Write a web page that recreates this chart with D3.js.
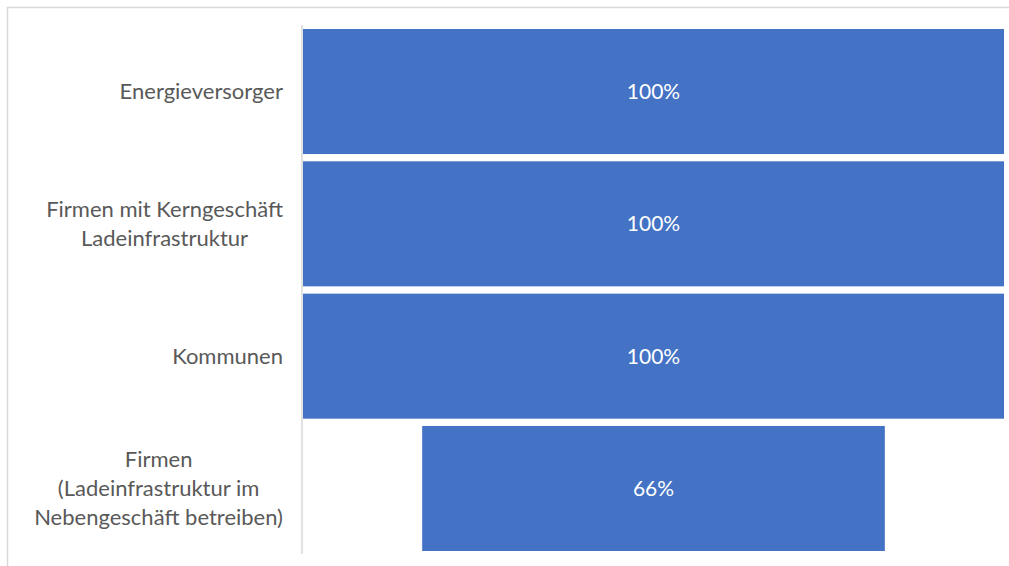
<!DOCTYPE html>
<html>
<head>
<meta charset="utf-8">
<script src="https://cdn.jsdelivr.net/npm/d3@7"></script>
<style>
  html, body { margin: 0; padding: 0; background: #fff; }
  svg { display: block; }
</style>
</head>
<body>
<svg id="chart" width="1009" height="566"></svg>
<script>
// Funnel stages and the share of each group
const categories = [
  ["Energieversorger"],
  ["Firmen mit Kerngeschäft", "Ladeinfrastruktur"],
  ["Kommunen"],
  ["Firmen", "(Ladeinfrastruktur im", "Nebengeschäft betreiben)"]
];
const values = [1.00, 1.00, 1.00, 0.66];
const valueLabels = ["100%", "100%", "100%", "66%"];

const FONT = "Lato, 'Open Sans', sans-serif";
const BAR = "#4472C4";

const svg = d3.select("#chart");
const keys = categories.map(c => c.join(" "));

// chart frame (extends past the visible area)
svg.append("rect")
  .attr("x", 7.5).attr("y", 7.5)
  .attr("width", 1100).attr("height", 700)
  .attr("fill", "none").attr("stroke", "#d9d9d9").attr("stroke-width", 1.5);

const y = d3.scaleBand().domain(keys).range([29, 551]).paddingInner(0.055).paddingOuter(0);
const x = d3.scaleLinear().domain([0, 1]).range([0, 701]);
const centerX = 303 + x(1) / 2;

// category axis line
svg.append("line")
  .attr("x1", 302).attr("x2", 302)
  .attr("y1", 25).attr("y2", 554)
  .attr("stroke", "#d9d9d9").attr("stroke-width", 1.5);

const rows = svg.selectAll("g.row").data(keys).join("g").attr("class", "row");

rows.append("rect")
  .attr("x", (d, i) => centerX - x(values[i]) / 2)
  .attr("y", d => y(d))
  .attr("width", (d, i) => x(values[i]))
  .attr("height", y.bandwidth())
  .attr("fill", BAR);

rows.append("text")
  .attr("x", centerX)
  .attr("y", d => y(d) + y.bandwidth() / 2)
  .attr("dy", "0.35em")
  .attr("text-anchor", "middle")
  .attr("font-family", FONT)
  .attr("font-size", 21)
  .attr("fill", "#ffffff")
  .text((d, i) => valueLabels[i]);

// category labels: centred block, right edge against the axis
const lineH = 28.8;
rows.each(function(d, i) {
  const lines = categories[i];
  const g = d3.select(this).append("text")
    .attr("font-family", FONT)
    .attr("font-size", 22)
    .attr("fill", "#595959")
    .attr("text-anchor", "middle");
  const cy = y(d) + y.bandwidth() / 2;
  const y0 = cy - (lines.length - 1) * lineH / 2;
  lines.forEach((t, j) => {
    g.append("tspan").attr("x", 0).attr("y", y0 + j * lineH).attr("dy", "0.35em").text(t);
  });
  const w = g.node().getBBox().width;
  g.selectAll("tspan").attr("x", 283 - w / 2);
});
</script>
</body>
</html>
